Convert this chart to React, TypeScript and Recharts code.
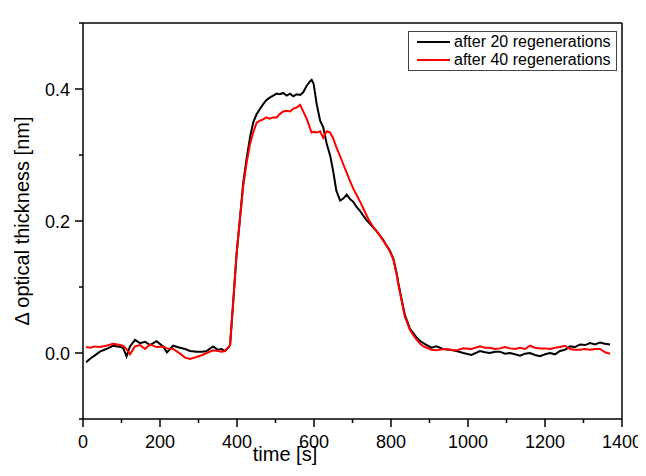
import { LineChart, Line, XAxis, YAxis, Legend, Label } from 'recharts';

const times = [
  8, 20, 30, 44, 60, 78, 90, 104, 113, 122,
  135, 148, 161, 174, 191, 208, 218, 234, 252, 265,
  278, 295, 310, 321, 338, 350, 360, 369, 377, 382,
  390, 399, 408, 416, 425, 434, 442, 451, 460, 468,
  476, 485, 494, 503, 511, 520, 529, 538, 546, 555,
  564, 572, 581, 590, 594, 599, 607, 616, 624, 633,
  642, 650, 658, 668, 676, 685, 694, 702, 711, 720,
  728, 737, 745, 754, 762, 771, 780, 788, 797, 806,
  815, 819, 828, 836, 841, 849, 858, 867, 876, 884,
  893, 905, 918, 935, 953, 970, 988, 1009, 1031, 1044,
  1057, 1070, 1083, 1096, 1109, 1122, 1135, 1148, 1161, 1174,
  1187, 1200, 1213, 1226, 1239, 1252, 1265, 1278, 1291, 1304,
  1317, 1330, 1343, 1356, 1369,
];

// after 20 regenerations (black)
const after20 = [
  -0.014, -0.008, -0.004, 0.002, 0.006, 0.011, 0.01, 0.008, -0.005, 0.01,
  0.02, 0.015, 0.017, 0.012, 0.018, 0.01, 0.001, 0.011, 0.008, 0.006,
  0.003, 0.002, 0.002, 0.003, 0.01, 0.005, 0.006, 0.003, 0.008, 0.012,
  0.076, 0.151, 0.206, 0.257, 0.295, 0.327, 0.349, 0.362, 0.37, 0.377,
  0.383, 0.387, 0.39, 0.393, 0.392, 0.394, 0.39, 0.393, 0.389, 0.392,
  0.391, 0.395, 0.405, 0.412, 0.414, 0.408, 0.377, 0.352, 0.342, 0.317,
  0.299, 0.275, 0.246, 0.231, 0.234, 0.24, 0.233, 0.229, 0.221, 0.215,
  0.208, 0.201, 0.196, 0.19, 0.185, 0.178, 0.171, 0.163, 0.155, 0.143,
  0.12, 0.106, 0.08, 0.058, 0.05, 0.037, 0.03, 0.023, 0.018, 0.015,
  0.012, 0.008, 0.01, 0.006, 0.005, 0.003, 0.0, -0.003, 0.003, 0.001,
  0.0, 0.002, 0.002, -0.001, 0.0, -0.002, -0.004, -0.001, 0.0, -0.003,
  -0.005, -0.002, 0.0, -0.002, 0.003, 0.005, 0.01, 0.009, 0.013, 0.012,
  0.015, 0.013, 0.016, 0.014, 0.013,
];

// after 40 regenerations (red)
const after40 = [
  0.009, 0.008, 0.01, 0.009, 0.011, 0.014, 0.013, 0.011, 0.006, -0.002,
  0.01, 0.012, 0.006, 0.013, 0.009, 0.01, 0.007, 0.006, -0.001, -0.007,
  -0.009, -0.006, -0.003, 0.0, 0.004, 0.003, 0.002, 0.003, 0.008, 0.012,
  0.076, 0.15, 0.205, 0.252, 0.288, 0.317, 0.334, 0.349, 0.352, 0.354,
  0.357, 0.355, 0.357, 0.357, 0.362, 0.366, 0.367, 0.366, 0.37, 0.372,
  0.376, 0.366, 0.355, 0.34, 0.334, 0.335, 0.334, 0.336, 0.326, 0.336,
  0.334, 0.325, 0.312, 0.298, 0.286, 0.273, 0.26, 0.249, 0.239, 0.229,
  0.219, 0.208, 0.199, 0.191, 0.185, 0.178, 0.17, 0.163, 0.154, 0.142,
  0.118, 0.104, 0.078, 0.055, 0.048, 0.035, 0.027, 0.02, 0.014, 0.01,
  0.008, 0.005, 0.004, 0.006, 0.005, 0.004, 0.007, 0.006, 0.01, 0.008,
  0.008, 0.006, 0.007, 0.009, 0.007, 0.006, 0.008, 0.006, 0.011, 0.008,
  0.007, 0.007, 0.006, 0.008, 0.009, 0.011, 0.006, 0.005, 0.005, 0.006,
  0.005, 0.006, 0.006, 0.001, -0.001,
];

const xTicks = [0, 100, 200, 300, 400, 500, 600, 700, 800, 900, 1000, 1100, 1200, 1300, 1400];
const xMajorTicks = [0, 200, 400, 600, 800, 1000, 1200, 1400];
const yTicks = [-0.1, 0, 0.1, 0.2, 0.3, 0.4, 0.5];

const FONT = '"Liberation Sans", Arial, sans-serif';

const data = times.map((t, i) => ({ t, after20: after20[i], after40: after40[i] }));

const XTick = (props: any) => {
  const { x, y, payload } = props;
  const major = payload.value % 200 === 0;
  return (
    <g>
      <line x1={x} y1={y} x2={x} y2={y + (major ? 8 : 4)} stroke="#000" strokeWidth={1.5} />
      {major && (
        <text x={x} y={y + 29} textAnchor="middle" fontSize={18} fontFamily={FONT} fill="#000">
          {payload.value}
        </text>
      )}
    </g>
  );
};

const YTick = (props: any) => {
  const { x, y, payload } = props;
  const v = Math.round(payload.value * 10);
  const major = v % 2 === 0 && v >= 0 && v <= 4;
  return (
    <g>
      <line x1={x - (major ? 8 : 4)} y1={y} x2={x} y2={y} stroke="#000" strokeWidth={1.5} />
      {major && (
        <text x={x - 13} y={y + 6.5} textAnchor="end" fontSize={18} fontFamily={FONT} fill="#000">
          {payload.value.toFixed(1)}
        </text>
      )}
    </g>
  );
};

const LegendBox = (props: any) => {
  const { payload } = props;
  return (
    <div
      style={{
        width: 209,
        height: 40,
        boxSizing: 'border-box',
        border: '1px solid #444',
        background: '#fff',
        paddingTop: 1,
        fontFamily: FONT,
        fontSize: 16,
      }}
    >
      {(payload || []).map((p: any) => (
        <div key={p.value} style={{ display: 'flex', alignItems: 'center', height: 18 }}>
          <span style={{ display: 'inline-block', width: 33, height: 2, background: p.color, marginLeft: 8, marginRight: 4 }} />
          <span style={{ color: '#000', lineHeight: '18px' }}>{p.value}</span>
        </div>
      ))}
    </div>
  );
};

export default function App() {
  return (
    <div style={{ width: 630, height: 460 }}>
      <LineChart width={630} height={460} data={data} margin={{ top: 0, right: 0, bottom: 0, left: 0 }}>
        <XAxis
          xAxisId="bottom"
          dataKey="t"
          type="number"
          domain={[0, 1400]}
          ticks={xTicks}
          interval={0}
          height={49}
          tickLine={false}
          tickSize={0}
          tickMargin={0}
          tick={XTick}
          axisLine={{ stroke: '#000', strokeWidth: 1.5 }}
        >
          <Label
            content={() => (
              <text x={277} y={453} textAnchor="middle" fontSize={20} fontFamily={FONT} fill="#000">
                time [s]
              </text>
            )}
          />
        </XAxis>
        <XAxis
          xAxisId="top"
          orientation="top"
          dataKey="t"
          type="number"
          domain={[0, 1400]}
          ticks={xMajorTicks}
          interval={0}
          height={15}
          tick={false}
          tickSize={8}
          tickLine={{ stroke: '#000', strokeWidth: 1.5 }}
          axisLine={{ stroke: '#000', strokeWidth: 1.5 }}
        />
        <YAxis
          yAxisId="left"
          type="number"
          domain={[-0.1, 0.5]}
          ticks={yTicks}
          interval={0}
          width={75}
          tickLine={false}
          tickSize={0}
          tickMargin={0}
          tick={YTick}
          axisLine={{ stroke: '#000', strokeWidth: 1.5 }}
        >
          <Label
            content={() => (
              <text
                x={21}
                y={213}
                transform="rotate(-90 21 213)"
                textAnchor="middle"
                fontSize={20}
                fontFamily={FONT}
                fill="#000"
              >
                Δ optical thickness [nm]
              </text>
            )}
          />
        </YAxis>
        <YAxis
          yAxisId="right"
          orientation="right"
          type="number"
          domain={[-0.1, 0.5]}
          width={16}
          tick={false}
          tickLine={false}
          axisLine={{ stroke: '#000', strokeWidth: 1.5 }}
        />
        <Legend
          layout="horizontal"
          verticalAlign="middle"
          align="center"
          wrapperStyle={{ top: 23, left: 400, width: 209, height: 40 }}
          content={LegendBox}
        />
        <Line
          xAxisId="bottom"
          yAxisId="left"
          type="linear"
          dataKey="after20"
          name="after 20 regenerations"
          stroke="#000"
          strokeWidth={2}
          dot={false}
          isAnimationActive={false}
        />
        <Line
          xAxisId="bottom"
          yAxisId="left"
          type="linear"
          dataKey="after40"
          name="after 40 regenerations"
          stroke="#ff0000"
          strokeWidth={2}
          dot={false}
          isAnimationActive={false}
        />
      </LineChart>
    </div>
  );
}
